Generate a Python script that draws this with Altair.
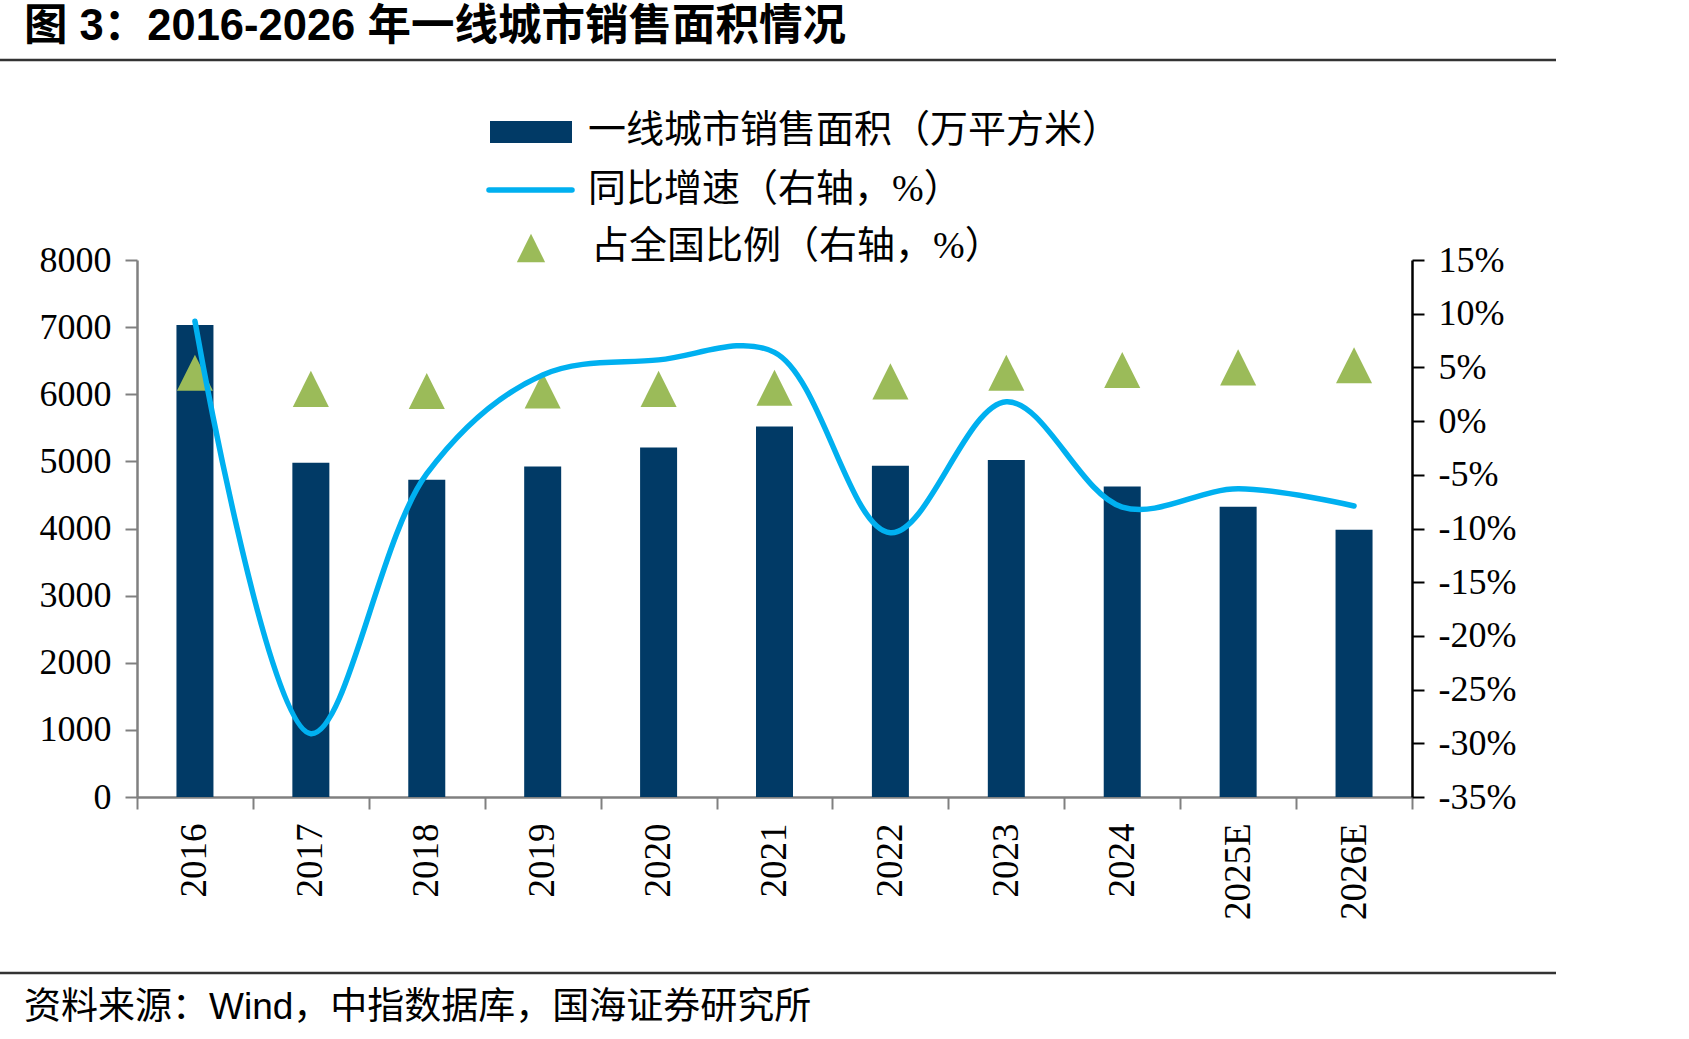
import altair as alt
import pandas as pd

# ---- data ----
years = ["2016", "2017", "2018", "2019", "2020", "2021", "2022", "2023", "2024", "2025E", "2026E"]
sales = [7030, 4980, 4725, 4925, 5205, 5520, 4935, 5020, 4625, 4325, 3980]          # 万平方米
growth = [9.3, -29.1, -4.9, 4.3, 5.7, 6.4, -10.4, 1.8, -8.0, -6.3, -7.9]            # 同比增速 %
share = [4.5, 3.0, 2.8, 2.85, 3.0, 3.1, 3.7, 4.5, 4.75, 5.0, 5.2]                    # 占全国比例 %

left_ticks = [0, 1000, 2000, 3000, 4000, 5000, 6000, 7000, 8000]
right_ticks = [-35, -30, -25, -20, -15, -10, -5, 0, 5, 10, 15]

title_text = "图 3：2016-2026 年一线城市销售面积情况"
source_text = "资料来源：Wind，中指数据库，国海证券研究所"
legend_labels = ["一线城市销售面积（万平方米）", "同比增速（右轴，%）", "占全国比例（右轴，%）"]

NAVY = "#013A66"
CYAN = "#00B0F0"
GREEN = "#9BBB59"
GRAY = "#808080"
SERIF = "Liberation Serif, Noto Sans CJK SC"
SANS = "Liberation Sans, Noto Sans CJK SC"
TRI = "M0,-1L1,1L-1,1Z"

df = pd.DataFrame({"year": years, "sales": sales, "growth": growth, "share": share})

W, H = 1275, 537

x_enc = alt.X(
    "year:N",
    sort=None,
    scale=alt.Scale(type="band", paddingInner=0, paddingOuter=0),
    axis=alt.Axis(
        title=None, labelAngle=270, labelAlign="right", labelBaseline="middle",
        labelFont=SERIF, labelFontSize=37, labelColor="black", labelPadding=14,
        tickBand="extent", tickSize=12, tickColor=GRAY, tickWidth=2,
        domainColor=GRAY, domainWidth=2.5, grid=False,
    ),
)

base = alt.Chart(df)

bars = base.mark_bar(size=37, color=NAVY).encode(
    x=x_enc,
    y=alt.Y(
        "sales:Q",
        scale=alt.Scale(domain=[0, 8000], nice=False, zero=True),
        axis=alt.Axis(
            title=None, orient="left", values=left_ticks, grid=False, format="d",
            labelFont=SERIF, labelFontSize=36, labelColor="black", labelPadding=14,
            tickSize=12, tickColor=GRAY, tickWidth=2, domainColor=GRAY, domainWidth=2.5,
        ),
    ),
)

points = base.mark_point(shape=TRI, filled=True, size=1300, color=GREEN, opacity=1).encode(
    x=x_enc,
    y=alt.Y("share:Q", scale=alt.Scale(domain=[-35, 15], nice=False, zero=False), axis=None),
)

line = base.mark_line(interpolate="catmull-rom", color=CYAN, strokeWidth=5.5, strokeCap="round").encode(
    x=x_enc,
    y=alt.Y(
        "growth:Q",
        scale=alt.Scale(domain=[-35, 15], nice=False, zero=False),
        axis=alt.Axis(
            title=None, orient="right", values=right_ticks, grid=False,
            labelExpr="datum.value + '%'",
            labelFont=SERIF, labelFontSize=36, labelColor="black", labelPadding=14,
            labelAlign="left",
            tickSize=12, tickColor="black", tickWidth=2, domainColor="black", domainWidth=2.5,
        ),
    ),
)

one = alt.Data(values=[{"k": 0}])

def text_layer(txt, x, y, size, font, weight="normal", align="left"):
    return alt.Chart(one).mark_text(
        text=txt, align=align, baseline="middle", fontSize=size, font=font,
        fontWeight=weight, color="black",
    ).encode(x=alt.value(x), y=alt.value(y))

def hrule(y, x1, x2, width, color):
    return alt.Chart(one).mark_rule(strokeWidth=width, color=color).encode(
        x=alt.value(x1), x2=alt.value(x2), y=alt.value(y)
    )

# positions relative to plot origin (137, 260)
title = text_layer(title_text, -113, -233, 43.5, SANS, weight="bold")
title_rule = hrule(-200, -137, 1419, 2.5, "#333333")
foot_rule = hrule(713, -137, 1419, 2.5, "#333333")
source = text_layer(source_text, -113, 748, 37, SANS)

leg_rect = alt.Chart(one).mark_rect(color=NAVY).encode(
    x=alt.value(353), x2=alt.value(435), y=alt.value(-139), y2=alt.value(-117)
)
leg_line = alt.Chart(one).mark_rule(color=CYAN, strokeWidth=5.5, strokeCap="round").encode(
    x=alt.value(352), x2=alt.value(435), y=alt.value(-70)
)
leg_tri = alt.Chart(one).mark_point(shape=TRI, filled=True, size=800, color=GREEN, opacity=1).encode(
    x=alt.value(394), y=alt.value(-12)
)
leg_t1 = text_layer(legend_labels[0], 451, -129, 38, SERIF)
leg_t2 = text_layer(legend_labels[1], 451, -70, 38, SERIF)
leg_t3 = text_layer(legend_labels[2], 454, -13, 38, SERIF)

chart = alt.layer(
    bars, points, line,
    title, title_rule, foot_rule, source,
    leg_rect, leg_line, leg_tri, leg_t1, leg_t2, leg_t3,
).resolve_scale(y="independent").properties(
    width=W, height=H,
    autosize=alt.AutoSizeParams(type="none"),
    padding={"left": 137, "top": 260, "right": 277, "bottom": 242},
    background="white",
).configure_view(strokeWidth=0)

chart.save("out.html", embed_options={"renderer": "svg", "actions": False})
